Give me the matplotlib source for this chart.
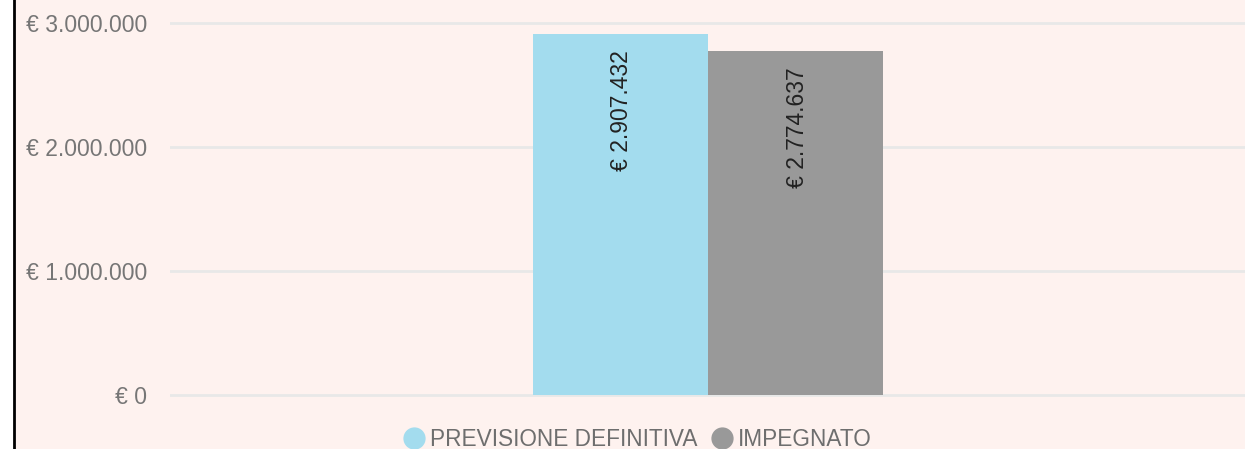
import matplotlib
matplotlib.use("Agg")
import matplotlib.pyplot as plt
from matplotlib.lines import Line2D
from matplotlib.patches import Rectangle

series = ["PREVISIONE DEFINITIVA", "IMPEGNATO"]
values = [2907432, 2774637]
colors = ["#A3DCEE", "#999999"]
yticks = [0, 1000000, 2000000, 3000000]

def eur(v):
    return "€ " + f"{v:,.0f}".replace(",", ".")

plt.rcParams['font.family'] = ['Liberation Sans', 'DejaVu Sans']
W, H = 1245, 449
fig = plt.figure(figsize=(W / 100, H / 100), dpi=100)
fig.patch.set_facecolor("white")
bg = "#FEF2EF"
fig.patches.append(Rectangle((15 / W, 0), 1, 1, transform=fig.transFigure,
                             facecolor=bg, edgecolor="none", zorder=-10))
fig.lines.append(Line2D([14 / W, 14 / W], [0, 1], transform=fig.transFigure,
                        color="black", lw=2, zorder=-5))

pxv = 3000000 / 372  # value per pixel
ax = fig.add_axes([170 / W, (H - 399) / H, 1 - 170 / W, 399 / H])
ax.set_zorder(5)
ax.set_facecolor("none")
ax.set_ylim(-4 * pxv, 395 * pxv)
ax.set_xlim(-1.5375, 1.5375)
bw = 175 / 1075 * 3.075
xs = [-bw / 2, bw / 2]
for x, v, c in zip(xs, values, colors):
    ax.bar(x, v, width=bw, color=c, zorder=2)
    ax.text(x + 2 / 1075 * 3.075, v - 16 * pxv, eur(v), rotation=90, ha="center",
            va="top", fontsize=16.5, color="#222222", zorder=3)

ax.set_yticks(yticks)
ax.set_yticklabels([eur(t) for t in yticks], fontsize=16.5, color="#767676")
ax.tick_params(axis="y", length=0, pad=16.5)
ax.set_xticks([])
ax.grid(axis="y", color="#E8E8E8", lw=2, zorder=1)
ax.set_axisbelow(True)
for s in ax.spines.values():
    s.set_visible(False)

handles = [Line2D([], [], marker="o", ls="none", markersize=15, color=c,
                  markeredgecolor=c) for c in colors]
leg = fig.legend(handles, series, loc="center", bbox_to_anchor=(637 / W, (H - 439) / H),
                 ncol=2, frameon=False, fontsize=16.3, handletextpad=0.2,
                 columnspacing=0.6, handlelength=1.0, borderaxespad=0)
leg.set_zorder(6)
for t in leg.get_texts():
    t.set_color("#6E6E6E")

fig.savefig("out.png", dpi=100, facecolor=fig.get_facecolor())
